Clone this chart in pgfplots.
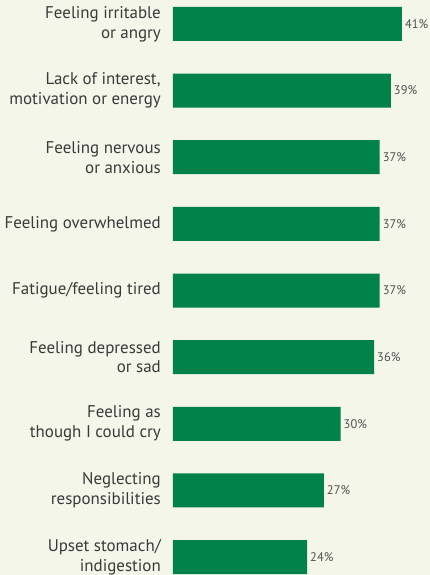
\documentclass[border=0pt]{standalone}
\usepackage{fontspec}
\setmainfont{PT Sans}
\usepackage{pgfplots}
\pgfplotsset{compat=1.18}
\definecolor{bg}{HTML}{F3F6E9}
\definecolor{barc}{HTML}{008248}
\definecolor{lbl}{HTML}{3A3A3A}
\definecolor{val}{HTML}{505050}

\begin{document}
\begin{tikzpicture}
% page background, 430 x 575
\fill[bg] (-173bp,0) rectangle (257bp,575bp);
\begin{axis}[
    at={(0,0)}, anchor=south west,
    scale only axis, width=257bp, height=575bp,
    xbar, bar width=34bp,
    xmin=0, xmax=46.02,
    ymin=-0.36, ymax=8.27, y dir=reverse,
    axis line style={draw=none},
    major tick length=0pt,
    xtick=\empty,
    ytick={0,...,8},
    yticklabels={
        {Feeling irritable\\or angry},
        {Lack of interest,\\motivation or energy},
        {Feeling nervous\\or anxious},
        {Feeling overwhelmed},
        {Fatigue/feeling tired},
        {Feeling depressed\\or sad},
        {Feeling as\\though I could cry},
        {Neglecting\\responsibilities},
        {Upset stomach/\\indigestion}},
    yticklabel style={align=right, font=\fontsize{17}{20}\selectfont,
        text=lbl, inner sep=0pt, xshift=-12bp},
    point meta=x,
    nodes near coords={\pgfmathprintnumber[assume math mode=true]{\pgfplotspointmeta}\%},
    nodes near coords style={font=\fontsize{12.5}{14}\selectfont, text=val,
        anchor=west, inner sep=0pt, xshift=3bp},
]
\addplot[fill=barc, draw=none] coordinates {
    (41,0) (39,1) (37,2) (37,3) (37,4) (36,5) (30,6) (27,7) (24,8)
};
\end{axis}
\pgfresetboundingbox
\path[use as bounding box] (-173bp,0) rectangle (257bp,575bp);
\end{tikzpicture}
\end{document}
